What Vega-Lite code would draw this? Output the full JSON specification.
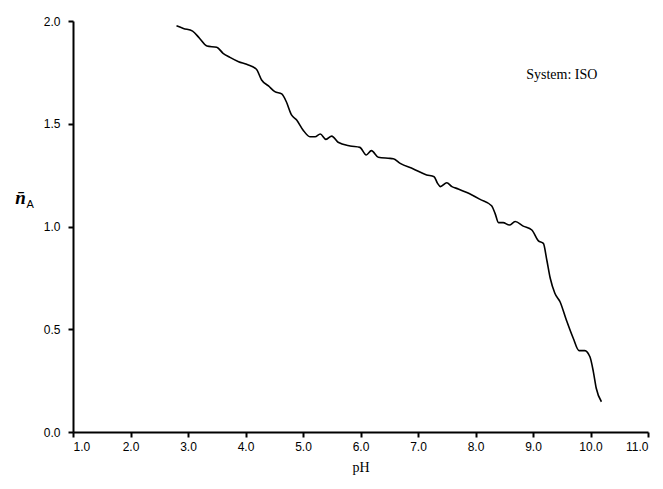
{
  "$schema": "https://vega.github.io/schema/vega-lite/v6.json",
  "width": 575,
  "height": 411,
  "autosize": "none",
  "padding": {"left": 73, "top": 21, "right": 15, "bottom": 57},
  "background": "white",
  "config": {"view": {"stroke": null}},
  "datasets": {
    "curve": [
      {"pH": 2.80, "n": 1.977}, {"pH": 2.92, "n": 1.964}, {"pH": 3.08, "n": 1.951},
      {"pH": 3.20, "n": 1.916}, {"pH": 3.33, "n": 1.878}, {"pH": 3.50, "n": 1.872},
      {"pH": 3.61, "n": 1.843}, {"pH": 3.73, "n": 1.823}, {"pH": 3.88, "n": 1.802},
      {"pH": 4.02, "n": 1.789}, {"pH": 4.19, "n": 1.765}, {"pH": 4.28, "n": 1.713},
      {"pH": 4.40, "n": 1.684}, {"pH": 4.51, "n": 1.656}, {"pH": 4.63, "n": 1.645},
      {"pH": 4.71, "n": 1.607}, {"pH": 4.80, "n": 1.543}, {"pH": 4.89, "n": 1.518},
      {"pH": 5.00, "n": 1.470}, {"pH": 5.12, "n": 1.437}, {"pH": 5.21, "n": 1.437},
      {"pH": 5.30, "n": 1.450}, {"pH": 5.40, "n": 1.424}, {"pH": 5.50, "n": 1.440},
      {"pH": 5.61, "n": 1.410}, {"pH": 5.82, "n": 1.392}, {"pH": 5.99, "n": 1.385},
      {"pH": 6.10, "n": 1.348}, {"pH": 6.19, "n": 1.369}, {"pH": 6.31, "n": 1.337},
      {"pH": 6.48, "n": 1.332}, {"pH": 6.57, "n": 1.330}, {"pH": 6.69, "n": 1.307},
      {"pH": 6.92, "n": 1.280}, {"pH": 7.15, "n": 1.251}, {"pH": 7.28, "n": 1.242},
      {"pH": 7.34, "n": 1.210}, {"pH": 7.39, "n": 1.194}, {"pH": 7.50, "n": 1.213},
      {"pH": 7.59, "n": 1.194}, {"pH": 7.70, "n": 1.183}, {"pH": 7.85, "n": 1.165},
      {"pH": 8.08, "n": 1.132}, {"pH": 8.28, "n": 1.101}, {"pH": 8.34, "n": 1.064},
      {"pH": 8.40, "n": 1.019}, {"pH": 8.48, "n": 1.019}, {"pH": 8.59, "n": 1.007},
      {"pH": 8.69, "n": 1.024}, {"pH": 8.83, "n": 1.002}, {"pH": 8.98, "n": 0.983},
      {"pH": 9.09, "n": 0.931}, {"pH": 9.18, "n": 0.918}, {"pH": 9.24, "n": 0.837},
      {"pH": 9.30, "n": 0.748}, {"pH": 9.38, "n": 0.675}, {"pH": 9.47, "n": 0.634},
      {"pH": 9.58, "n": 0.545}, {"pH": 9.70, "n": 0.456}, {"pH": 9.80, "n": 0.396},
      {"pH": 9.90, "n": 0.396}, {"pH": 9.99, "n": 0.366}, {"pH": 10.05, "n": 0.293},
      {"pH": 10.10, "n": 0.213}, {"pH": 10.19, "n": 0.147}
    ],
    "label": [{"pH": 9.5, "n": 1.737, "text": "System: ISO"}]
  },
  "layer": [
    {
      "data": {"name": "curve"},
      "mark": {"type": "line", "color": "black", "strokeWidth": 1.6, "interpolate": "monotone"},
      "encoding": {
        "x": {
          "field": "pH", "type": "quantitative",
          "scale": {"domain": [1, 11], "nice": false, "zero": false},
          "axis": {
            "title": "pH", "values": [1,2,3,4,5,6,7,8,9,10,11], "format": ".1f",
            "grid": false, "domainColor": "black", "domainWidth": 2,
            "tickColor": "black", "tickWidth": 2, "tickSize": 5,
            "labelFont": "Liberation Sans", "labelFontSize": 12, "labelColor": "black",
            "labelPadding": 4,
            "titleFont": "Liberation Serif", "titleFontSize": 14, "titleFontWeight": "normal",
            "titleColor": "black", "titlePadding": 8
          }
        },
        "y": {
          "field": "n", "type": "quantitative",
          "scale": {"domain": [0, 2], "nice": false},
          "axis": {
            "title": "n̄", "values": [0, 0.5, 1, 1.5, 2], "format": ".1f",
            "grid": false, "domainColor": "black", "domainWidth": 2,
            "tickColor": "black", "tickWidth": 2, "tickSize": 5,
            "labelFont": "Liberation Sans", "labelFontSize": 12, "labelColor": "black",
            "labelPadding": 8,
            "titleFont": "Liberation Serif", "titleFontSize": 19, "titleFontWeight": "bold",
            "titleFontStyle": "italic", "titleColor": "black",
            "titleAngle": 0, "titleX": -53, "titleY": 176, "titleAlign": "center", "titleBaseline": "middle"
          }
        }
      }
    },
    {
      "data": {"name": "label"},
      "mark": {"type": "text", "font": "Liberation Serif", "fontSize": 14, "color": "black"},
      "encoding": {
        "x": {"field": "pH", "type": "quantitative"},
        "y": {
          "field": "n", "type": "quantitative",
          "axis": {
            "title": "A", "orient": "left", "domain": false, "ticks": false, "labels": false, "grid": false,
            "titleFont": "Liberation Sans", "titleFontSize": 11, "titleFontWeight": "normal",
            "titleColor": "black", "titleAngle": 0, "titleX": -47, "titleY": 183,
            "titleAlign": "left", "titleBaseline": "middle"
          }
        },
        "text": {"field": "text"}
      }
    }
  ],
  "resolve": {"axis": {"y": "independent"}}
}
